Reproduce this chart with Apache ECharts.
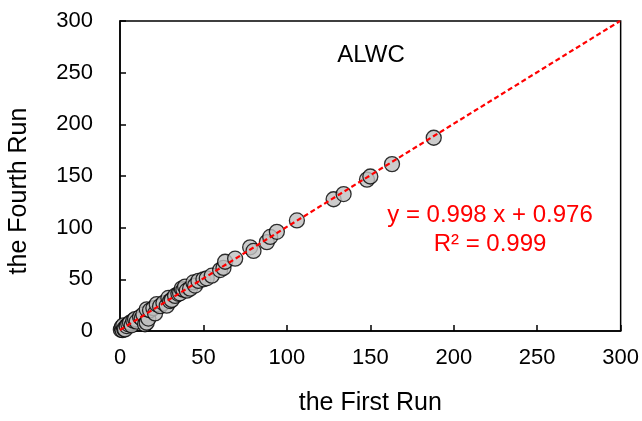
<!DOCTYPE html>
<html>
<head>
<meta charset="utf-8">
<script src="https://cdn.jsdelivr.net/npm/echarts@6/dist/echarts.min.js"></script>
<style>
  html, body { margin: 0; padding: 0; background: #fff; }
  #chart { width: 642px; height: 421px; }
</style>
</head>
<body>
<div id="chart"></div>
<script>
// ALWC: first run vs fourth run
var firstRun = [0.5, 1, 1.5, 2, 2.5, 3, 4, 5, 6, 7, 8, 9, 10, 12, 13, 14, 15, 16, 17, 16,
    18, 20, 21, 22, 24, 26, 28, 29, 30, 31, 33, 35, 36, 37, 38, 39, 40, 42, 44, 45,
    47, 50, 52, 55, 60, 62, 63, 69, 78, 80, 88, 90, 94, 106, 128, 134, 148, 150, 163, 188];
var fourthRun = [1.2, 3.5, 0.8, 5.5, 2, 1.5, 4.8, 6.5, 8, 5.5, 10, 11.5, 9, 13.5, 12, 16, 6.5, 8, 12, 21,
    20, 22, 17, 26, 24, 27, 24.5, 32, 29, 30, 34, 36, 36.5, 41, 40, 43, 39, 41, 47, 44,
    48.5, 50, 51, 53.5, 59, 61, 67, 70, 81, 77.5, 86, 91, 96, 107, 127.5, 132.5, 146.5, 149.5, 161.5, 187];

var slope = 0.998;
var intercept = 0.976;
var rSquared = 0.999;
var axisTicks = [0, 50, 100, 150, 200, 250, 300];

var points = [];
for (var i = 0; i < firstRun.length; i++) {
    points.push([firstRun[i], fourthRun[i]]);
}
// fitted line across the plot, stopped at the top edge
var xEnd = (300 - intercept) / slope;
var fitLine = [[0, intercept], [xEnd, slope * xEnd + intercept]];

var font = 'Liberation Sans, Arial, sans-serif';
var myChart = echarts.init(document.getElementById('chart'));

var option = {
    animation: false,
    grid: {
        left: 120, right: 17, top: 21, bottom: 85,
        show: true, borderColor: '#000', borderWidth: 1.5
    },
    xAxis: {
        type: 'value',
        min: axisTicks[0], max: axisTicks[axisTicks.length - 1], interval: 50,
        name: 'the First Run',
        nameLocation: 'middle',
        nameGap: 60,
        nameTextStyle: { color: '#000', fontSize: 25, fontFamily: font },
        axisLine: { show: true, lineStyle: { color: '#000', width: 1.5 } },
        axisTick: { show: true, inside: true, length: 6, lineStyle: { color: '#000', width: 1.5 } },
        axisLabel: { color: '#000', fontSize: 22, fontFamily: font, margin: 16 },
        splitLine: { show: false }
    },
    yAxis: {
        type: 'value',
        min: axisTicks[0], max: axisTicks[axisTicks.length - 1], interval: 50,
        axisLine: { show: true, lineStyle: { color: '#000', width: 1.5 } },
        axisTick: { show: true, inside: true, length: 6, lineStyle: { color: '#000', width: 1.5 } },
        axisLabel: { color: '#000', fontSize: 22, fontFamily: font, margin: 27 },
        splitLine: { show: false }
    },
    series: [{
        type: 'scatter',
        data: points,
        symbolSize: 15,
        itemStyle: { color: '#bfbfbf', borderColor: '#000', borderWidth: 1.3 },
        z: 2
    }, {
        type: 'line',
        data: fitLine,
        symbol: 'none',
        lineStyle: { color: '#ff0000', width: 2.2, type: [5, 3] },
        z: 3
    }],
    graphic: [{
        type: 'text',
        x: 19, y: 191, rotation: Math.PI / 2,
        style: { text: 'the Fourth Run', fill: '#000', font: '25px ' + font, textAlign: 'center', textVerticalAlign: 'middle' }
    }, {
        type: 'text',
        x: 371, y: 55,
        style: { text: 'ALWC', fill: '#000', font: '24px ' + font, textAlign: 'center', textVerticalAlign: 'middle' }
    }, {
        type: 'text',
        x: 490, y: 215,
        style: { text: 'y = ' + slope + ' x + ' + intercept, fill: '#ff0000', font: '24px ' + font, textAlign: 'center', textVerticalAlign: 'middle' }
    }, {
        type: 'text',
        x: 490, y: 244,
        style: { text: 'R² = ' + rSquared, fill: '#ff0000', font: '24px ' + font, textAlign: 'center', textVerticalAlign: 'middle' }
    }]
};
myChart.setOption(option);
</script>
</body>
</html>
